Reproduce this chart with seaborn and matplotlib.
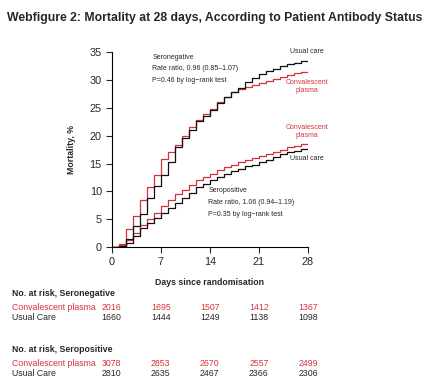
import matplotlib
matplotlib.use('Agg')
import matplotlib.pyplot as plt
import matplotlib.transforms as mtransforms
import seaborn as sns
import pandas as pd

# daily cumulative mortality (%), days 0..28
days = list(range(29))
neg_plasma = [0, 0.5, 3.2, 5.6, 8.4, 10.7, 13.0, 15.8, 17.0, 18.4, 20.0, 21.5, 22.8, 23.8, 24.8,
              26.0, 27.0, 27.8, 28.3, 28.7, 29.0, 29.4, 29.8, 30.2, 30.6, 30.9, 31.2, 31.5, 31.8]
neg_usual = [0, 0.2, 1.5, 3.8, 6.0, 8.8, 11.0, 12.9, 15.3, 18.0, 19.6, 21.0, 22.6, 23.6, 24.6,
             25.8, 27.0, 27.8, 28.6, 29.7, 30.4, 31.0, 31.6, 32.0, 32.4, 32.8, 33.1, 33.4, 33.6]
pos_plasma = [0, 0.3, 1.2, 2.5, 4.0, 5.0, 6.2, 7.3, 8.5, 9.5, 10.3, 11.2, 12.0, 12.6, 13.2,
              13.8, 14.3, 14.8, 15.2, 15.6, 16.0, 16.3, 16.7, 17.1, 17.5, 17.9, 18.2, 18.5, 18.7]
pos_usual = [0, 0.1, 0.8, 2.0, 3.4, 4.4, 5.3, 6.2, 7.0, 8.0, 8.8, 9.8, 10.7, 11.4, 12.0,
             12.6, 13.2, 13.7, 14.1, 14.5, 14.8, 15.2, 15.7, 16.2, 16.7, 17.0, 17.3, 17.6, 17.8]

risk_days = [0, 7, 14, 21, 28]
risk_neg_plasma = [2016, 1695, 1507, 1412, 1367]
risk_neg_usual = [1660, 1444, 1249, 1138, 1098]
risk_pos_plasma = [3078, 2853, 2670, 2557, 2499]
risk_pos_usual = [2810, 2635, 2467, 2366, 2306]

RED = '#d6323c'
BLACK = '#111111'

rows = []
for name, arm, vals in [('neg_p', 'Convalescent plasma', neg_plasma),
                        ('neg_u', 'Usual care', neg_usual),
                        ('pos_p', 'Convalescent plasma', pos_plasma),
                        ('pos_u', 'Usual care', pos_usual)]:
    for d, v in zip(days, vals):
        rows.append({'curve': name, 'arm': arm, 'day': d, 'mort': v})
df = pd.DataFrame(rows)

sns.set_style('ticks')
plt.rcParams['font.family'] = ['Liberation Sans', 'DejaVu Sans']

fig = plt.figure(figsize=(4.29, 3.88), dpi=100)
ax = fig.add_axes([0.260, 0.363, 0.458, 0.503])

sns.lineplot(data=df, x='day', y='mort', hue='arm', units='curve', estimator=None,
             drawstyle='steps-post', palette={'Convalescent plasma': RED, 'Usual care': BLACK},
             linewidth=0.9, legend=False, ax=ax)

ax.set_xlim(0, 28)
ax.set_ylim(0, 35)
ax.set_xticks([0, 7, 14, 21, 28])
ax.set_yticks([0, 5, 10, 15, 20, 25, 30, 35])
ax.tick_params(labelsize=7.8, length=4, width=0.8, pad=3)
for s in ['left', 'bottom']:
    ax.spines[s].set_linewidth(0.8)
    ax.spines[s].set_color('black')
sns.despine(ax=ax)
ax.set_xlabel('Days since randomisation', fontsize=6.3, fontweight='bold', labelpad=8)
ax.set_ylabel('Mortality, %', fontsize=6.3, fontweight='bold', labelpad=10)

fs = 5.0
ax.text(5.8, 34.0, 'Seronegative', fontsize=fs, va='center')
ax.text(5.8, 32.0, 'Rate ratio, 0.96 (0.85\u20131.07)', fontsize=fs, va='center')
ax.text(5.8, 29.9, 'P=0.46 by log\u2212rank test', fontsize=fs, va='center')
ax.text(13.8, 10.1, 'Seropositive', fontsize=fs, va='center')
ax.text(13.8, 8.0, 'Rate ratio, 1.06 (0.94\u20131.19)', fontsize=fs, va='center')
ax.text(13.8, 5.9, 'P=0.35 by log\u2212rank test', fontsize=fs, va='center')

ax.text(27.8, 35.0, 'Usual care', fontsize=fs, va='center', ha='center', clip_on=False)
ax.text(27.8, 28.75, 'Convalescent\nplasma', fontsize=fs, va='center', ha='center',
        color=RED, linespacing=1.15, clip_on=False)
ax.text(27.8, 20.8, 'Convalescent\nplasma', fontsize=fs, va='center', ha='center',
        color=RED, linespacing=1.15, clip_on=False)
ax.text(27.8, 15.9, 'Usual care', fontsize=fs, va='center', ha='center', clip_on=False)

fig.text(0.5, 0.953, 'Webfigure 2: Mortality at 28 days, According to Patient Antibody Status',
         ha='center', va='center', fontsize=8.8, fontweight='bold')

# numbers at risk tables
tr = mtransforms.blended_transform_factory(ax.transData, fig.transFigure)
tfs = 6.3
def risk_block(ytitle, title, plasma, usual):
    fig.text(12 / 429, 1 - ytitle / 388, title, fontsize=tfs, fontweight='bold', va='center')
    fig.text(12 / 429, 1 - (ytitle + 14) / 388, 'Convalescent plasma', fontsize=tfs,
             color=RED, va='center')
    fig.text(12 / 429, 1 - (ytitle + 25) / 388, 'Usual Care', fontsize=tfs, va='center')
    for d, p, u in zip(risk_days, plasma, usual):
        ax.text(d, 1 - (ytitle + 14) / 388, str(p), transform=tr, fontsize=tfs, color=RED,
                ha='center', va='center')
        ax.text(d, 1 - (ytitle + 25) / 388, str(u), transform=tr, fontsize=tfs,
                ha='center', va='center')

risk_block(293, 'No. at risk, Seronegative', risk_neg_plasma, risk_neg_usual)
risk_block(349, 'No. at risk, Seropositive', risk_pos_plasma, risk_pos_usual)

fig.savefig('out.png', dpi=100)
